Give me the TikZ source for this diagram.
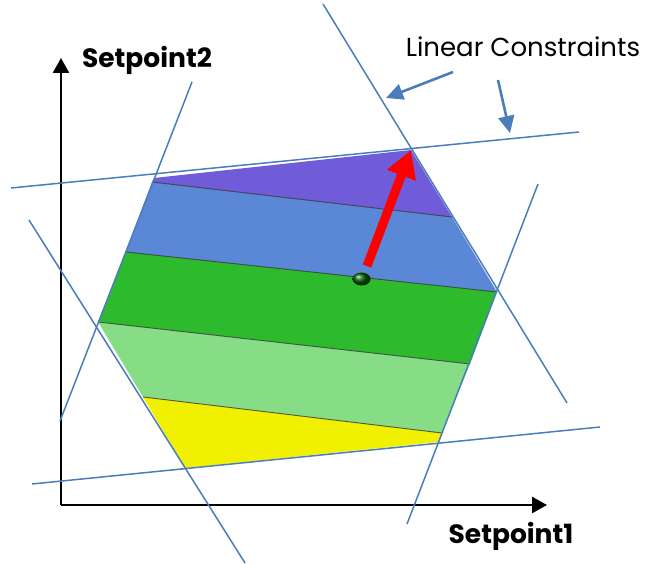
\documentclass[tikz,border=0pt]{standalone}
\usepackage{fontspec}
\setmainfont{Poppins}
\usetikzlibrary{arrows.meta}
\definecolor{cline}{HTML}{4A7EBB}
\definecolor{cpurple}{HTML}{705CD8}
\definecolor{cblue}{HTML}{5A87D6}
\definecolor{cgreen}{HTML}{2DBB2D}
\definecolor{clgreen}{HTML}{86DD86}
\definecolor{cyellow}{HTML}{F0F000}
\definecolor{cred}{HTML}{FF0000}
\begin{document}
\begin{tikzpicture}[x=1pt,y=-1pt,
  constraint/.style={draw=cline,line width=1.5pt},
  divider/.style={draw=black!80,line width=0.9pt,opacity=0.8},
  axis/.style={draw=black,line width=2.5pt,-{Triangle[length=15pt,width=16pt]}},
  callout/.style={draw=cline,line width=2.6pt,-{Triangle[length=17pt,width=16pt]}},
  bigarrow/.style={draw=cred,line width=9pt,-{Triangle[length=27pt,width=29pt]}},
  axlabel/.style={font=\fontsize{26.5}{30}\selectfont\bfseries,text=black,inner sep=0pt},
  note/.style={font=\fontsize{26}{30}\selectfont,text=black,inner sep=0pt}]
\useasboundingbox (0,0) rectangle (648,564);
% polygon vertices
\coordinate (TL) at (154,178);
\coordinate (TR) at (411,150);
\coordinate (R) at (497,292);
\coordinate (BR) at (438,442);
\coordinate (BL) at (185,468);
\coordinate (L) at (98,322);
\coordinate (D1L) at (152,182);
\coordinate (D1R) at (452,217);
\coordinate (D2L) at (126,252);
\coordinate (D3R) at (470,364);
\coordinate (D4L) at (143,397);
\coordinate (D4R) at (442,433);
% bands
\fill[cpurple] (TL) -- (TR) -- (D1R) -- (D1L) -- cycle;
\fill[cblue] (D1L) -- (D1R) -- (R) -- (D2L) -- cycle;
\fill[cgreen] (D2L) -- (R) -- (D3R) -- (L) -- cycle;
\fill[clgreen] (L) -- (D3R) -- (D4R) -- (D4L) -- cycle;
\fill[cyellow] (D4L) -- (D4R) -- (BR) -- (BL) -- cycle;
\draw[divider] (D1L) -- (D1R);
\draw[divider] (D2L) -- (R);
\draw[divider] (L) -- (D3R);
\draw[divider] (D4L) -- (D4R);
% axes
\coordinate (O) at (61,505);
\coordinate (Ytip) at (61,58);
\coordinate (Xtip) at (547,505);
\draw[axis] (O) -- (Ytip);
\draw[axis] (O) -- (Xtip);
\node[axlabel] (ylab) at (147,60) {Setpoint2};
\node[axlabel] (xlab) at (511,536) {Setpoint1};
% constraint lines
\coordinate (c1a) at (11,188);  \coordinate (c1b) at (579,132);
\coordinate (c2a) at (32,484);  \coordinate (c2b) at (600,427);
\coordinate (c3a) at (60,421);  \coordinate (c3b) at (192,82);
\coordinate (c4a) at (29,220);  \coordinate (c4b) at (245,563);
\coordinate (c5a) at (323,4);   \coordinate (c5b) at (567,403);
\coordinate (c6a) at (407,524); \coordinate (c6b) at (538,184);
\draw[constraint] (c1a) -- (c1b);
\draw[constraint] (c2a) -- (c2b);
\draw[constraint] (c3a) -- (c3b);
\draw[constraint] (c4a) -- (c4b);
\draw[constraint] (c5a) -- (c5b);
\draw[constraint] (c6a) -- (c6b);
% dot and red arrow
\shade[ball color=green!35!black] (361.5,279) ellipse [x radius=9,y radius=6.5];
\coordinate (rs) at (367,266);
\draw[bigarrow] (rs) -- (TR);
% callouts
\node[note] (lc) at (523,47) {Linear Constraints};
\coordinate (a1s) at (453,72); \coordinate (a1e) at (386,98);
\coordinate (a2s) at (498,80); \coordinate (a2e) at (510,133);
\draw[callout] (a1s) -- (a1e);
\draw[callout] (a2s) -- (a2e);
\end{tikzpicture}
\end{document}
